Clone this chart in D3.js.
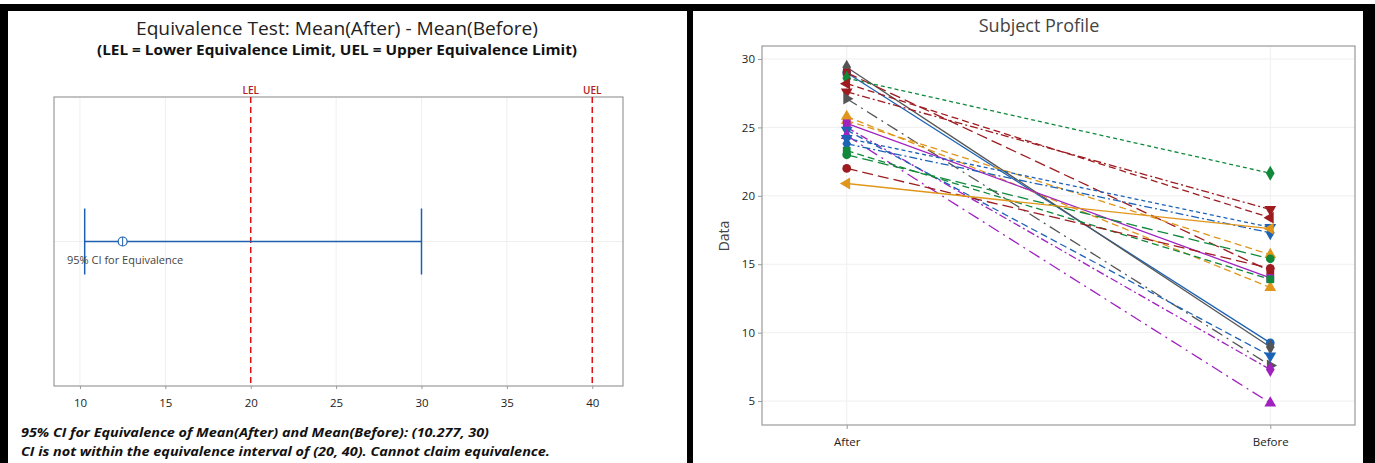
<!DOCTYPE html>
<html lang="en">
<head>
<meta charset="UTF-8">
<script src="https://d3js.org/d3.v7.min.js"></script>
<title>Equivalence Test</title>
<style>
  body { margin: 0; background: #fff; }
  svg { display: block; }
  text { font-family: 'Open Sans', sans-serif; }
</style>
</head>
<body>
<svg id="canvas" width="1375" height="463"></svg>
<script>
// equivalence test panel
let ciLow = 10.277
let ciHigh = 30
let estimate = 12.5
let lel = 20
let uel = 40
let eqTicks = [10, 15, 20, 25, 30, 35, 40]

// subject profile panel
let timePoints = ['After', 'Before']
let afterVals  = [29.0, 29.4, 29.0, 28.6, 28.2, 27.6, 27.1, 25.8, 25.5, 25.3, 25.0, 24.8, 24.4, 23.8, 24.2, 23.3, 23.0, 22.0, 20.9]
let beforeVals = [9.25, 8.95, 14.5, 21.65, 18.4, 19.0, 7.6, 13.3, 15.7, 14.0, 7.3, 8.3, 4.85, 17.3, 17.7, 13.9, 15.4, 14.7, 17.6]
let profileTicks = [5, 10, 15, 20, 25, 30]

// per-subject styling
let subjColors = ['blue', 'grey', 'red', 'green', 'red', 'red', 'grey', 'orange', 'orange', 'purple',
                  'purple', 'blue', 'purple', 'blue', 'blue', 'green', 'green', 'red', 'orange']
let subjSymbols = ['circle', 'diamond', 'square', 'diamond', 'left', 'down', 'right', 'up', 'up', 'square',
                   'diamond', 'down', 'up', 'diamond', 'down', 'square', 'circle', 'circle', 'left']
let subjDash = ['solid', 'solid', 'long', 'short', 'dash', 'dashdot', 'longdot', 'dash', 'dash', 'solid',
                'dashdot', 'dash', 'longdot', 'dashdot', 'short', 'dash', 'long', 'long', 'solid']

let palette = {
    blue: '#1d63b5', grey: '#555555', red: '#9c1c20', green: '#10893b',
    orange: '#e0961a', purple: '#a020c0'
}
let dashes = {
    solid: null, short: '4,3', dash: '7,4', long: '11,5', dashdot: '8,3,2,3', longdot: '12,5,2,5'
}

let svg = d3.select('#canvas')

// panel frames
svg.append('rect').attr('x', 0).attr('y', 4).attr('width', 1375).attr('height', 470).attr('fill', '#000')
svg.append('rect').attr('x', 8).attr('y', 11).attr('width', 679).attr('height', 460).attr('fill', '#fff')
svg.append('rect').attr('x', 693).attr('y', 11).attr('width', 670).attr('height', 460).attr('fill', '#fff')

// ---------- left panel ----------
let left = svg.append('g')
let lx = d3.scaleLinear().domain([8.48, 41.8]).range([54, 623])
let lTop = 97, lBottom = 386, lMid = (lTop + lBottom) / 2

left.append('text').attr('x', 337).attr('y', 35).attr('text-anchor', 'middle')
    .attr('font-size', 18).attr('fill', '#222')
    .attr('textLength', 402).attr('lengthAdjust', 'spacingAndGlyphs')
    .text('Equivalence Test: Mean(After) - Mean(Before)')
left.append('text').attr('x', 337).attr('y', 55).attr('text-anchor', 'middle')
    .attr('font-size', 14).attr('font-weight', 'bold').attr('fill', '#111')
    .attr('textLength', 480).attr('lengthAdjust', 'spacingAndGlyphs')
    .text('(LEL = Lower Equivalence Limit, UEL = Upper Equivalence Limit)')

left.selectAll('.vgrid').data(eqTicks).enter().append('line')
    .attr('x1', d => lx(d)).attr('x2', d => lx(d))
    .attr('y1', lTop).attr('y2', lBottom)
    .attr('stroke', '#efefef')
left.append('line').attr('x1', 54).attr('x2', 623).attr('y1', lMid).attr('y2', lMid).attr('stroke', '#efefef')

left.append('rect').attr('x', 54).attr('y', lTop).attr('width', 569).attr('height', lBottom - lTop)
    .attr('fill', 'none').attr('stroke', '#9a9a9a').attr('stroke-width', 1.2)

let lAxis = d3.axisBottom(lx).tickValues(eqTicks).tickSize(3).tickSizeOuter(0)
let lAxisG = left.append('g').attr('transform', `translate(0,${lBottom})`).call(lAxis)
lAxisG.select('.domain').remove()
lAxisG.selectAll('line').attr('stroke', '#9a9a9a')
lAxisG.selectAll('text').attr('font-size', 11.5).attr('fill', '#222').attr('dy', '1.3em')
    .style('font-family', "'Open Sans', sans-serif")

// limits
let limits = [{name: 'LEL', v: lel}, {name: 'UEL', v: uel}]
left.selectAll('.lim').data(limits).enter().append('line')
    .attr('x1', d => lx(d.v)).attr('x2', d => lx(d.v))
    .attr('y1', lTop).attr('y2', lBottom)
    .attr('stroke', '#e01010').attr('stroke-width', 1.5).attr('stroke-dasharray', '6,4')
left.selectAll('.limlab').data(limits).enter().append('text')
    .attr('x', d => lx(d.v)).attr('y', lTop - 3).attr('text-anchor', 'middle')
    .attr('font-size', 10).attr('font-weight', 600).attr('fill', '#b02020')
    .text(d => d.name)

// CI
let ciColor = '#1f5fae'
left.append('line').attr('x1', lx(ciLow)).attr('x2', lx(ciHigh)).attr('y1', lMid).attr('y2', lMid)
    .attr('stroke', ciColor).attr('stroke-width', 1.5)
left.selectAll('.cap').data([ciLow, ciHigh]).enter().append('line')
    .attr('x1', d => lx(d)).attr('x2', d => lx(d))
    .attr('y1', lMid - 33).attr('y2', lMid + 33)
    .attr('stroke', ciColor).attr('stroke-width', 1.5)
left.append('circle').attr('cx', lx(estimate)).attr('cy', lMid).attr('r', 4.5)
    .attr('fill', '#fff').attr('stroke', ciColor).attr('stroke-width', 1.2)
left.append('line').attr('x1', lx(estimate)).attr('x2', lx(estimate)).attr('y1', lMid - 4.5).attr('y2', lMid + 4.5)
    .attr('stroke', ciColor).attr('stroke-width', 1)
left.append('text').attr('x', 67).attr('y', 264).attr('font-size', 11).attr('fill', '#444')
    .text('95% CI for Equivalence')

left.append('text').attr('x', 21).attr('y', 437).attr('font-size', 13).attr('font-style', 'italic')
    .attr('font-weight', 'bold').attr('fill', '#111')
    .attr('textLength', 468).attr('lengthAdjust', 'spacingAndGlyphs')
    .text('95% CI for Equivalence of Mean(After) and Mean(Before): (10.277, 30)')
left.append('text').attr('x', 21).attr('y', 456).attr('font-size', 13).attr('font-style', 'italic')
    .attr('font-weight', 'bold').attr('fill', '#111')
    .attr('textLength', 529).attr('lengthAdjust', 'spacingAndGlyphs')
    .text('CI is not within the equivalence interval of (20, 40). Cannot claim equivalence.')

// ---------- right panel ----------
let right = svg.append('g')
let rLeft = 762, rRight = 1355, rTop = 46, rBottom = 425
let rx = d3.scalePoint().domain(timePoints).range([rLeft, rRight]).padding(0.2)
let ry = d3.scaleLinear().domain([3.25, 30.95]).range([rBottom, rTop])

right.append('text').attr('x', 1039).attr('y', 32).attr('text-anchor', 'middle')
    .attr('font-size', 18).attr('fill', '#444')
    .text('Subject Profile')

right.selectAll('.hgrid').data(profileTicks).enter().append('line')
    .attr('x1', rLeft).attr('x2', rRight).attr('y1', d => ry(d)).attr('y2', d => ry(d))
    .attr('stroke', '#efefef')
right.selectAll('.xgrid').data(timePoints).enter().append('line')
    .attr('x1', d => rx(d)).attr('x2', d => rx(d)).attr('y1', rTop).attr('y2', rBottom)
    .attr('stroke', '#efefef')

right.append('rect').attr('x', rLeft).attr('y', rTop).attr('width', rRight - rLeft).attr('height', rBottom - rTop)
    .attr('fill', 'none').attr('stroke', '#9a9a9a').attr('stroke-width', 1.2)

let yAxisG = right.append('g').attr('transform', `translate(${rLeft},0)`)
    .call(d3.axisLeft(ry).tickValues(profileTicks).tickSize(4).tickSizeOuter(0))
yAxisG.select('.domain').remove()
yAxisG.selectAll('line').attr('stroke', '#9a9a9a')
yAxisG.selectAll('text').attr('font-size', 11.5).attr('fill', '#222')
    .style('font-family', "'Open Sans', sans-serif")

let xAxisG = right.append('g').attr('transform', `translate(0,${rBottom})`)
    .call(d3.axisBottom(rx).tickSize(4).tickSizeOuter(0))
xAxisG.select('.domain').remove()
xAxisG.selectAll('line').attr('stroke', '#9a9a9a')
xAxisG.selectAll('text').attr('font-size', 11.5).attr('fill', '#222').attr('dy', '1.2em')
    .style('font-family', "'Open Sans', sans-serif")

right.append('text').attr('transform', 'translate(729,236) rotate(-90)').attr('text-anchor', 'middle')
    .attr('font-size', 14).attr('fill', '#444').text('Data')

let subjects = afterVals.map((a, i) => ({
    after: a, before: beforeVals[i],
    color: palette[subjColors[i]], symbol: subjSymbols[i], dash: dashes[subjDash[i]]
}))

right.selectAll('.profile').data(subjects).enter().append('line')
    .attr('x1', rx('After')).attr('y1', d => ry(d.after))
    .attr('x2', rx('Before')).attr('y2', d => ry(d.before))
    .attr('stroke', d => d.color).attr('stroke-width', 1.3)
    .attr('stroke-dasharray', d => d.dash)

let symbolPath = (name) => {
    let type = d3.symbolTriangle
    if (name === 'circle') type = d3.symbolCircle
    if (name === 'square') type = d3.symbolSquare
    if (name === 'diamond') type = d3.symbolDiamond
    return d3.symbol().type(type).size(name === 'diamond' ? 65 : 60)()
}
let symbolRotate = {up: 0, down: 180, left: -90, right: 90}

let points = []
subjects.forEach(s => {
    points.push({t: 'After', v: s.after, s: s})
    points.push({t: 'Before', v: s.before, s: s})
})
right.selectAll('.pt').data(points).enter().append('path')
    .attr('d', d => symbolPath(d.s.symbol))
    .attr('transform', d => `translate(${rx(d.t)},${ry(d.v)}) rotate(${symbolRotate[d.s.symbol] || 0})`)
    .attr('fill', d => d.s.color)
</script>
</body>
</html>
